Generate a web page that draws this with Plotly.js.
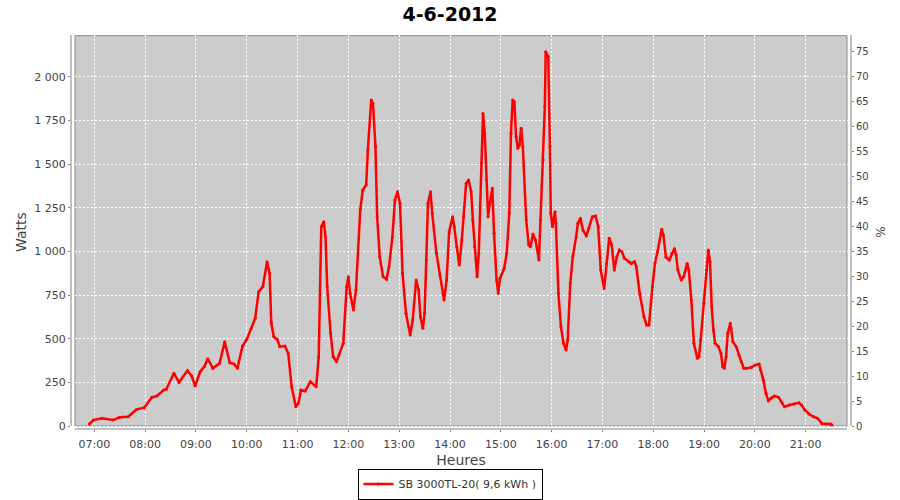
<!DOCTYPE html>
<html>
<head>
<meta charset="utf-8">
<script src="https://cdn.plot.ly/plotly-3.0.1.min.js"></script>
<style>
html,body{margin:0;padding:0;background:#fff;}
#chart{width:900px;height:500px;}
</style>
</head>
<body>
<div id="chart"></div>
<script>
const chartTitle = '4-6-2012';
const seriesName = 'SB 3000TL-20( 9,6 kWh )';
const day = '2012-06-04';
const times = ['06:54','06:59','07:09','07:22','07:30','07:40','07:50','07:59','08:08','08:14','08:22','08:25','08:34','08:40','08:50','08:55','08:59','09:05','09:10','09:14','09:20','09:28','09:34','09:40','09:45','09:49','09:55','10:00','10:05','10:10','10:14','10:19','10:24','10:27','10:29','10:32','10:36','10:39','10:45','10:49','10:53','10:58','11:01','11:04','11:09','11:15','11:22','11:25','11:28','11:31','11:33','11:35','11:39','11:42','11:46','11:49','11:54','11:58','12:00','12:02','12:06','12:09','12:14','12:17','12:21','12:23','12:27','12:29','12:32','12:34','12:37','12:41','12:45','12:48','12:52','12:55','12:58','13:01','13:04','13:08','13:13','13:16','13:20','13:23','13:25','13:28','13:30','13:32','13:34','13:37','13:39','13:44','13:48','13:52','13:53','13:56','13:59','14:03','14:05','14:08','14:11','14:14','14:16','14:19','14:22','14:25','14:27','14:29','14:32','14:34','14:37','14:39','14:41','14:43','14:45','14:47','14:50','14:52','14:55','14:57','14:59','15:04','15:07','15:10','15:12','15:14','15:16','15:18','15:20','15:22','15:24','15:26','15:30','15:33','15:35','15:38','15:41','15:45','15:47','15:50','15:52','15:53','15:56','15:58','15:59','16:01','16:04','16:05','16:08','16:11','16:14','16:17','16:19','16:22','16:25','16:29','16:31','16:34','16:37','16:41','16:44','16:48','16:52','16:55','16:58','17:02','17:05','17:08','17:11','17:14','17:17','17:20','17:23','17:26','17:31','17:34','17:38','17:40','17:44','17:49','17:52','17:55','17:59','18:02','18:05','18:10','18:12','18:15','18:19','18:22','18:25','18:27','18:29','18:33','18:36','18:40','18:42','18:45','18:48','18:52','18:54','18:56','19:00','19:03','19:05','19:07','19:09','19:11','19:13','19:17','19:20','19:22','19:24','19:26','19:28','19:31','19:32','19:34','19:38','19:41','19:44','19:47','19:50','19:56','20:00','20:05','20:07','20:10','20:13','20:16','20:19','20:23','20:28','20:32','20:35','20:41','20:46','20:52','20:55','20:59','21:04','21:09','21:14','21:19','21:25','21:29','21:31'];
const watts = [11,34,44,34,50,53,95,105,164,172,206,210,302,250,317,286,229,311,340,385,330,359,483,362,355,330,458,496,555,617,769,798,941,874,588,511,496,454,458,416,225,110,130,206,200,254,225,397,1141,1170,1084,798,531,397,368,407,474,798,855,760,664,779,1237,1351,1380,1580,1867,1848,1599,1198,969,855,840,912,1084,1294,1341,1275,874,645,521,607,836,779,626,559,645,950,1275,1341,1218,989,865,760,721,836,1112,1198,1141,1027,922,1065,1198,1389,1408,1341,1179,1027,855,989,1504,1790,1676,1408,1198,1275,1361,1103,836,760,846,903,989,1218,1676,1867,1857,1657,1590,1609,1705,1599,1179,1036,1027,1099,1065,950,1179,1523,1828,2143,2115,1599,1218,1141,1227,1161,760,569,474,435,492,817,969,1084,1161,1189,1122,1088,1132,1198,1202,1141,893,788,931,1075,1036,893,969,1008,998,960,941,931,941,912,760,626,578,578,798,931,998,1126,1094,966,950,989,1017,979,893,836,855,931,893,721,474,388,397,492,703,893,1008,941,683,550,474,454,416,340,330,397,531,588,559,483,454,407,368,330,330,336,349,355,321,263,187,145,159,172,164,133,110,120,126,133,120,92,69,53,44,15,11,11,6];

const xs = times.map(t => day + ' ' + t);

const FONT = 'DejaVu Sans, sans-serif';
const W = 780, H = 394; // plot area in px
const gx0 = 4 / W, gx1 = (847 - 71) / W;
const gy0 = 3 / H, gy1 = (429 - 35.7) / H;

const traces = [
  {
    x: xs, y: watts, type: 'scatter', mode: 'lines+markers',
    name: seriesName,
    line: {color: '#ff0000', width: 2.5},
    marker: {color: '#ff0000', size: 3},
    hoverinfo: 'skip'
  },
  {
    x: [day + ' 12:00'], y: [null], yaxis: 'y2', type: 'scatter', mode: 'lines',
    showlegend: false, hoverinfo: 'skip'
  }
];

const layout = {
  width: 900, height: 500,
  margin: {l: 71, r: 49, t: 35, b: 71, pad: 0, autoexpand: false},
  paper_bgcolor: '#ffffff',
  plot_bgcolor: 'rgba(0,0,0,0)',
  separators: ', ',
  font: {family: FONT, size: 11, color: '#444444'},
  title: {
    text: '<b>' + chartTitle + '</b>',
    font: {family: FONT, size: 19, color: '#000000'},
    x: 0.5, xanchor: 'center', xref: 'container',
    y: 1 - 14 / 500, yanchor: 'middle', yref: 'container'
  },
  xaxis: {
    type: 'date',
    range: [day + ' 06:32:29', day + ' 21:53:30'],
    tick0: day + ' 07:00', dtick: 3600000,
    tickformat: '%H:%M',
    showgrid: true, gridcolor: '#ffffff', gridwidth: 1, griddash: '2px,2px',
    zeroline: false, showline: false,
    ticks: 'outside', ticklen: 2, tickcolor: '#808080',
    ticklabelstandoff: 3,
    tickfont: {family: FONT, size: 11, color: '#444444'},
    title: {text: 'Heures', font: {family: FONT, size: 14, color: '#444444'}, standoff: 4},
    fixedrange: true
  },
  yaxis: {
    range: [-17.2, 2238.8],
    tick0: 0, dtick: 250, tickformat: ',.0f',
    showgrid: true, gridcolor: '#ffffff', gridwidth: 1, griddash: '2px,2px',
    zeroline: false, showline: false,
    ticks: 'outside', ticklen: 2, tickcolor: '#808080',
    tickfont: {family: FONT, size: 11, color: '#444444'},
    title: {text: 'Watts', font: {family: FONT, size: 14, color: '#444444'}, standoff: 4},
    fixedrange: true
  },
  yaxis2: {
    overlaying: 'y', side: 'right',
    range: [-0.601, 78.36],
    tick0: 0, dtick: 5,
    showgrid: false, zeroline: false, showline: false,
    ticks: 'outside', ticklen: 2, tickcolor: '#808080',
    tickfont: {family: FONT, size: 10, color: '#444444'},
    title: {text: '%', font: {family: FONT, size: 12, color: '#444444'}, standoff: 8},
    fixedrange: true
  },
  showlegend: true,
  legend: {
    orientation: 'h',
    x: (450 - 71) / W, xanchor: 'center',
    y: (429 - 499.5) / H, yanchor: 'bottom',
    bgcolor: '#ffffff', bordercolor: '#000000', borderwidth: 1,
    font: {family: FONT, size: 11, color: '#333333'},
    itemwidth: 30
  },
  shapes: [
    {type: 'rect', xref: 'paper', yref: 'paper', x0: gx0, x1: gx1, y0: gy0, y1: gy1,
     fillcolor: '#cccccc', line: {color: '#8a8a8a', width: 1}, layer: 'below'},
    {type: 'line', xref: 'paper', yref: 'paper', x0: 0, x1: 0, y0: gy0, y1: 1,
     line: {color: '#808080', width: 1}, layer: 'above'},
    {type: 'line', xref: 'paper', yref: 'paper', x0: 1, x1: 1, y0: gy0, y1: 1,
     line: {color: '#808080', width: 1}, layer: 'above'},
    {type: 'line', xref: 'paper', yref: 'paper', x0: gx0, x1: gx1, y0: 0, y1: 0,
     line: {color: '#808080', width: 1}, layer: 'above'}
  ]
};

Plotly.newPlot('chart', traces, layout, {displayModeBar: false, staticPlot: true});
</script>
</body>
</html>
